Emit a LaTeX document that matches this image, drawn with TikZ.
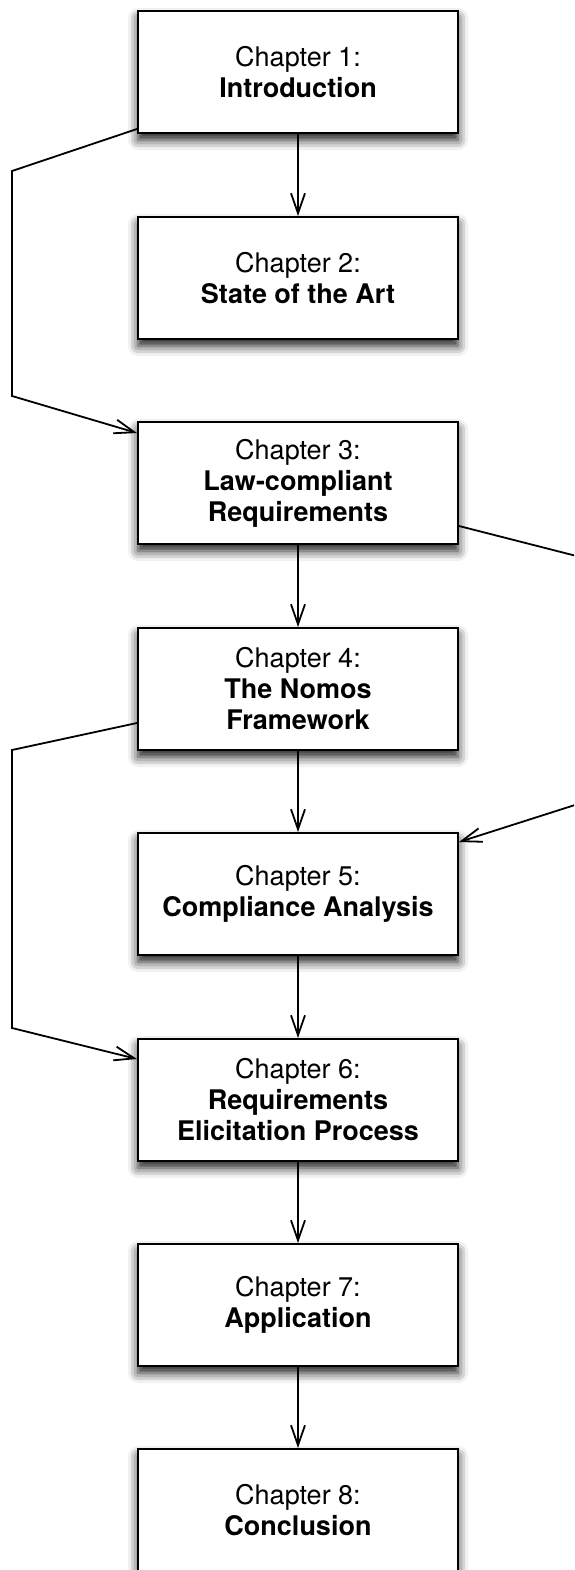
\documentclass[tikz,border=0pt]{standalone}
\usepackage{fontspec}
\setmainfont{TeX Gyre Heros}
\usetikzlibrary{arrows.meta,calc,shadows.blur}

\begin{document}
\begin{tikzpicture}[x=1pt,y=-1pt,
  chapter/.style={draw=black, line width=2pt, fill=white,
    minimum width=320pt, minimum height=122pt, inner sep=0pt,
    align=center, font=\fontsize{27}{31}\selectfont,
    blur shadow={shadow xshift=0pt, shadow yshift=-7pt,
      shadow blur radius=10pt, shadow opacity=90}},
  link/.style={line width=1.8pt,
    -{Straight Barb[length=20pt,width=14pt,line width=1.8pt]}}]

\useasboundingbox (0,0) rectangle (574,1570);
\clip (0,0) rectangle (574,1570);

% chapter boxes
\node[chapter] (c1) at (298,72)   {Chapter 1:\\\textbf{Introduction}};
\node[chapter] (c2) at (298,278)  {Chapter 2:\\\textbf{State of the Art}};
\node[chapter] (c3) at (298,483)  {Chapter 3:\\\textbf{Law-compliant}\\\textbf{Requirements}};
\node[chapter] (c4) at (298,689)  {Chapter 4:\\\textbf{The Nomos}\\\textbf{Framework}};
\node[chapter] (c5) at (298,894)  {Chapter 5:\\\textbf{Compliance Analysis}};
\node[chapter] (c6) at (298,1100) {Chapter 6:\\\textbf{Requirements}\\\textbf{Elicitation Process}};
\node[chapter] (c7) at (298,1305) {Chapter 7:\\\textbf{Application}};
\node[chapter] (c8) at (298,1510) {Chapter 8:\\\textbf{Conclusion}};

% reading order
\draw[link] (c1) -- (c2);
\draw[link] (c3) -- (c4);
\draw[link] (c4) -- (c5);
\draw[link] (c5) -- (c6);
\draw[link] (c6) -- (c7);
\draw[link] (c7) -- (c8);

% bends of the side connectors
\coordinate (l1a) at (12,171);
\coordinate (l1b) at (12,396);
\coordinate (l2a) at (12,750);
\coordinate (l2b) at (12,1028);
\coordinate (r1a) at (600,562);
\coordinate (r1b) at (600,797);

% side connectors
\draw[link] ($(c1.south west)+(0,-5)$) -- (l1a) -- (l1b) -- ($(c3.north west)+(0,12)$);
\draw[link] ($(c4.south west)+(0,-28)$) -- (l2a) -- (l2b) -- ($(c6.north west)+(0,21)$);
\draw[link] ($(c3.south east)+(0,-19)$) -- (r1a) -- (r1b) -- ($(c5.north east)+(0,10)$);

\end{tikzpicture}
\end{document}
